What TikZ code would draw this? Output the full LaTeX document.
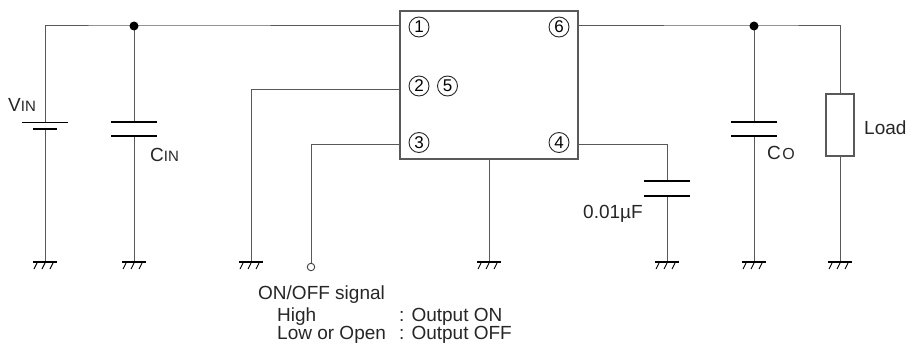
\documentclass[tikz,border=0pt]{standalone}
\usepackage{fontspec}
\setmainfont{Liberation Sans}
\usetikzlibrary{positioning}

\newcommand\lblsize{\fontsize{19}{22}\selectfont}
\newcommand\subsize{\fontsize{15}{18}\selectfont}

\tikzset{
  wire/.style={draw=black!65, line width=1pt},
  plate/.style={draw=black, line width=2.8pt},
  ic/.style={draw=black!65, line width=1.3pt, minimum width=178pt, minimum height=148pt, inner sep=0pt},
  pinno/.style={circle, draw=black!85, line width=0.9pt, minimum size=20pt, inner sep=0pt, font=\fontsize{17}{19}\selectfont},
  lbl/.style={anchor=base west, inner sep=0pt, text=black!85, font=\lblsize},
  gnd/.pic={
    \draw[line width=2.4pt] (-12pt,0pt) -- (12pt,0pt);
    \foreach \d in {-8,0,8}
      \draw[line width=0.9pt] (\d pt,-1pt) -- ++(-3pt,-6pt);
  }
}

\begin{document}
\begin{tikzpicture}[x=1pt, y=-1pt]
    \useasboundingbox (0,0) rectangle (912,345);
    % the regulator
    \node[ic] (ic) at (489,85) {};
    \node[pinno] (p1) at (419,27) {1};
    \node[pinno] (p6) at (559,27) {6};
    \node[pinno] (p2) at (419,86) {2};
    \node[pinno] (p5) at (447.5,86) {5};
    \node[pinno] (p3) at (419,142.5) {3};
    \node[pinno] (p4) at (559,142.5) {4};
    % points of the wiring
    \coordinate (vtop) at (45,26);
    \coordinate (batp) at (45,122);
    \coordinate (batn) at (45,129);
    \coordinate (jin) at (134,26);
    \coordinate (cinA) at (134,122);
    \coordinate (cinB) at (134,136);
    \coordinate (en) at (251,89);
    \coordinate (sig) at (311,144);
    \coordinate (c4) at (667,144);
    \coordinate (cssA) at (667,181);
    \coordinate (cssB) at (667,196);
    \coordinate (jout) at (754,26);
    \coordinate (coA) at (754,122);
    \coordinate (coB) at (754,136);
    \coordinate (ltop) at (840,26);
    \node[draw=black!65, line width=1.1pt, minimum width=28pt, minimum height=62pt, inner sep=0pt] (load) at (840,125) {};
    \node[circle, draw=black!75, line width=0.9pt, minimum size=7.5pt, inner sep=0pt] (term) at (311,267) {};
    \foreach \n/\x in {g1/45, g2/134, g3/251, g4/489, g5/667, g6/754, g7/840}
      \coordinate (\n) at (\x,262);
    % wires
    \draw[wire] (batp) -- (vtop) -- (jin) -- (ic.west |- jin);
    \draw[wire] (batn) -- (g1);
    \draw[wire] (jin) -- (cinA);
    \draw[wire] (cinB) -- (g2);
    \draw[wire] (g3) -- (en) -- (ic.west |- en);
    \draw[wire] (ic.west |- sig) -- (sig) -- (term);
    \draw[wire] (ic.south) -- (g4);
    \draw[wire] (ic.east |- c4) -- (c4) -- (cssA);
    \draw[wire] (cssB) -- (g5);
    \draw[wire] (ic.east |- jout) -- (jout) -- (ltop) -- (load);
    \draw[wire] (jout) -- (coA);
    \draw[wire] (coB) -- (g6);
    \draw[wire] (load) -- (g7);
    \fill (jin) circle (4.5pt);
    \fill (jout) circle (4.5pt);
    % battery and capacitors
    \draw[line width=1pt] (batp) ++(-23,0) -- ++(46,0);
    \draw[plate] (batn) ++(-12,0) -- ++(24,0);
    \foreach \c in {cinA, cinB, cssA, cssB, coA, coB}
      \draw[plate] (\c) ++(-23,0) -- ++(46,0);
    \foreach \n in {g1, g2, g3, g4, g5, g6, g7}
      \pic at (\n) {gnd};
    % labels
    \node[lbl] (vin) at (8,111) {V{\subsize IN}};
    \node[lbl] (cin) at (150,161) {C{\subsize IN}};
    \node[lbl] (co) at (767,159) {C\hspace{1.5pt}{\fontsize{16}{18}\selectfont O}};
    \node[lbl] (loadlbl) at (864,134) {Load};
    \node[lbl] (css) at (583,218) {0.01µF};
    \node[lbl] (onoff) at (258,299) {ON/OFF signal};
    \node[lbl] (high) at (277,321) {High};
    \node[lbl] (low) at (277,339) {Low or Open};
    \node[lbl] (highout) at (399,321) {: Output ON};
    \node[lbl] (lowout) at (399,339) {: Output OFF};
\end{tikzpicture}
\end{document}
